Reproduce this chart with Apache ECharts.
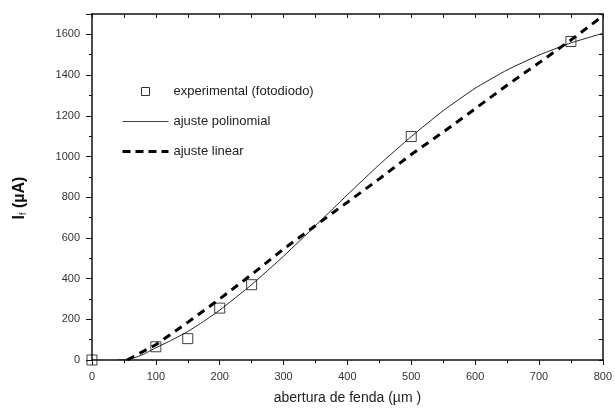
<!DOCTYPE html>
<html lang="pt">
<head>
    <meta charset="UTF-8">
    <title>fotocorrente vs abertura</title>
    <script src="https://cdn.jsdelivr.net/npm/echarts@6/dist/echarts.min.js"></script>
    <style>
        html, body { margin: 0; padding: 0; background: #fff; }
    </style>
</head>
<body>
<div id="chart" style="width: 615px;height: 414px;"></div>
<script>
    // pontos experimentais (fotodiodo)
    var expX = [0, 100, 150, 200, 250, 500, 750];
    var expY = [0, 65, 105, 255, 370, 1098, 1565];

    // ajuste polinomial (linha fina)
    var polyX = [40, 60, 80, 100, 125, 150, 175, 200, 250, 300, 350, 400, 450, 500, 550, 600, 650, 700, 750, 800];
    var polyY = [0, 5, 27, 60, 98, 140, 190, 245, 370, 510, 660, 812, 960, 1098, 1225, 1335, 1425, 1498, 1558, 1605];

    // ajuste linear (tracejado)
    var linX = [55, 100, 150, 200, 250, 300, 340, 380, 400, 450, 500, 550, 585, 650, 700, 750, 800];
    var linY = [0, 75, 185, 300, 420, 545, 637, 730, 775, 890, 1010, 1120, 1200, 1350, 1460, 1572, 1690];

    function pares(xs, ys) {
        return xs.map(function (x, i) { return [x, ys[i]]; });
    }

    var txt = '#333';
    var font = 'Liberation Sans, Arial, sans-serif';
    var semSimbolo = { color: 'rgba(0,0,0,0)', borderColor: 'rgba(0,0,0,0)', borderWidth: 0 };

    var myChart = echarts.init(document.getElementById('chart'));
    var option = {
        animation: false,
        backgroundColor: '#fff',
        textStyle: { fontFamily: font },
        grid: { left: 92, right: 11, top: 14, bottom: 54, containLabel: false },
        legend: {
            orient: 'vertical',
            left: 116,
            top: 80,
            itemWidth: 46,
            itemHeight: 8,
            itemGap: 17,
            symbolKeepAspect: true,
            textStyle: { fontSize: 13, color: '#222', fontFamily: font },
            data: [
                { name: 'experimental (fotodiodo)', icon: 'path://M0,0L10,0L10,10L0,10Z', itemStyle: { color: '#fff', borderColor: '#000', borderWidth: 1 } },
                { name: 'ajuste polinomial', itemStyle: semSimbolo, lineStyle: { width: 1, color: '#444' } },
                { name: 'ajuste linear', itemStyle: semSimbolo, lineStyle: { width: 3, color: '#000', type: [8, 5] } }
            ]
        },
        xAxis: [
            {
                type: 'value', min: 0, max: 800, interval: 100,
                name: 'abertura de fenda (\u00b5m )',
                nameLocation: 'middle', nameGap: 31,
                nameTextStyle: { fontSize: 14, color: '#222' },
                axisLine: { lineStyle: { color: '#111', width: 1.5 } },
                axisTick: { inside: false, length: 5, lineStyle: { color: '#111' } },
                minorTick: { show: true, splitNumber: 2, length: 3, lineStyle: { color: '#111' } },
                axisLabel: { fontSize: 11, color: txt, margin: 11, formatter: function (v) { return String(v); } },
                splitLine: { show: false }
            },
            {
                type: 'value', position: 'top', min: 0, max: 800, interval: 50,
                axisLine: { onZero: false, lineStyle: { color: '#111', width: 1.5 } },
                axisTick: { inside: true, length: 4, lineStyle: { color: '#111' } },
                axisLabel: { show: false },
                splitLine: { show: false }
            }
        ],
        yAxis: [
            {
                type: 'value', min: 0, max: 1700, interval: 200,
                name: '{a|I}{s|f}{a| (\u00b5A)}',
                nameLocation: 'middle', nameGap: 64, nameRotate: 90,
                nameTextStyle: {
                    padding: [0, 0, 0, -22],
                    rich: {
                        a: { fontSize: 16, color: '#111', fontWeight: 'bold', fontFamily: font },
                        s: { fontSize: 9, color: '#111', verticalAlign: 'bottom', padding: [8, 0, 0, 0], fontFamily: font }
                    }
                },
                axisLine: { lineStyle: { color: '#111', width: 1.5 } },
                axisTick: { inside: false, length: 6, lineStyle: { color: '#111' } },
                minorTick: { show: true, splitNumber: 2, length: 3, lineStyle: { color: '#111' } },
                axisLabel: {
                    fontSize: 11, color: txt, margin: 12, showMaxLabel: false,
                    formatter: function (v) { return v % 200 === 0 ? String(v) : ''; }
                },
                splitLine: { show: false }
            },
            {
                type: 'value', position: 'right', min: 0, max: 1700, interval: 100,
                axisLine: { onZero: false, lineStyle: { color: '#111', width: 1.5 } },
                axisTick: { inside: true, length: 4, lineStyle: { color: '#111' } },
                axisLabel: { show: false },
                splitLine: { show: false }
            }
        ],
        series: [
            {
                name: 'ajuste polinomial',
                type: 'line',
                data: pares(polyX, polyY),
                smooth: 0.15,
                symbol: 'none',
                lineStyle: { color: '#222', width: 1 },
                itemStyle: { color: '#222' },
                z: 2
            },
            {
                name: 'ajuste linear',
                type: 'line',
                data: pares(linX, linY),
                symbol: 'none',
                lineStyle: { color: '#000', width: 3, type: [8, 6] },
                itemStyle: { color: '#000' },
                z: 3
            },
            {
                name: 'experimental (fotodiodo)',
                type: 'scatter',
                data: pares(expX, expY),
                symbol: 'rect',
                symbolSize: 10,
                itemStyle: { color: 'rgba(255,255,255,0)', borderColor: '#111', borderWidth: 1 },
                z: 4
            }
        ]
    };
    myChart.setOption(option);
</script>
</body>
</html>
